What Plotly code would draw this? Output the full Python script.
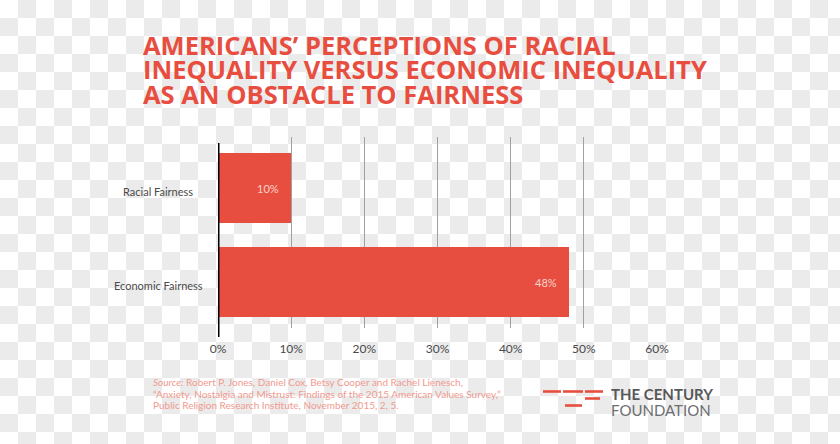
import plotly.graph_objects as go
import urllib.parse

categories = ["Economic Fairness", "Racial Fairness"]
values = [48, 10]
value_labels = ["48%", "10%"]
tick_values = [0, 10, 20, 30, 40, 50, 60]
tick_labels = ["0%", "10%", "20%", "30%", "40%", "50%", "60%"]

title_lines = [
    "AMERICANS\u2019 PERCEPTIONS OF RACIAL",
    "INEQUALITY VERSUS ECONOMIC INEQUALITY",
    "AS AN OBSTACLE TO FAIRNESS",
]
source_lines = [
    "<i>Source:</i> Robert P. Jones, Daniel Cox, Betsy Cooper and Rachel Lienesch,",
    "\u201cAnxiety, Nostalgia and Mistrust: Findings of the 2015 American Values Survey,\u201d",
    "Public Religion Research Institute, November 2015, 2, 5.",
]

W, H = 840, 444
ML, MR, MT, MB = 218, 183, 137, 116
PW, PH = W - ML - MR, H - MT - MB

RED = "#e84e3f"

def px_x(p):
    return (p - ML) / PW

def px_y(p):
    return (H - MB - p) / PH

# checkerboard background
svg = (
    "<svg xmlns='http://www.w3.org/2000/svg' width='840' height='444'>"
    "<defs><pattern id='p' width='36' height='36' patternUnits='userSpaceOnUse'>"
    "<rect width='36' height='36' fill='#ffffff'/>"
    "<rect x='18' y='0' width='18' height='18' fill='#ebebeb'/>"
    "<rect x='0' y='18' width='18' height='18' fill='#ebebeb'/>"
    "</pattern></defs><rect width='840' height='444' fill='url(#p)'/></svg>"
)
bg_src = "data:image/svg+xml;charset=utf-8," + urllib.parse.quote(svg)

fig = go.Figure()
fig.add_trace(go.Bar(
    y=categories, x=values, orientation="h",
    marker=dict(color=RED, line=dict(width=0)),
    width=0.745, hoverinfo="skip",
))

annotations = []
for i, line in enumerate(title_lines):
    annotations.append(dict(
        text=line, xref="paper", yref="paper", x=px_x(141), y=px_y(44.5 + i * 24.5),
        xanchor="left", yanchor="middle", showarrow=False,
        font=dict(family="Open Sans", size=25.5, color=RED, weight="bold"),
    ))
for cat in categories:
    annotations.append(dict(
        text=cat, xref="paper", yref="y", x=px_x(158), y=cat, yshift=-3,
        xanchor="center", yanchor="middle", showarrow=False,
        font=dict(family="Lato", size=11, color="#4a4a4a"),
    ))
for cat, v, lab in zip(categories, values, value_labels):
    annotations.append(dict(
        text=lab, xref="x", yref="y", x=v, y=cat, xshift=-10,
        xanchor="right", yanchor="middle", showarrow=False,
        font=dict(family="Lato", size=11, color="#fbd3ce"),
    ))
for i, line in enumerate(source_lines):
    annotations.append(dict(
        text=line, xref="paper", yref="paper", x=px_x(151), y=px_y(382 + i * 11.7),
        xanchor="left", yanchor="middle", showarrow=False,
        font=dict(family="Lato", size=10, color="#f19a8f"),
    ))
annotations.append(dict(
    text="<b>THE CENTURY</b>", xref="paper", yref="paper", x=px_x(609), y=px_y(393.5),
    xanchor="left", yanchor="middle", showarrow=False,
    font=dict(family="Lato", size=15, color="#58595b"),
))
annotations.append(dict(
    text="FOUNDATION", xref="paper", yref="paper", x=px_x(609), y=px_y(409.5),
    xanchor="left", yanchor="middle", showarrow=False,
    font=dict(family="Lato", size=15, color="#6d6e71"),
))

shapes = [
    dict(type="line", xref="x", yref="paper", x0=0, x1=0, y0=px_y(337), y1=px_y(143),
         line=dict(color="#000000", width=3)),
]
# logo dashes
for (x0, x1, y) in [(543, 561, 391.5), (563, 583, 391.5), (585, 603, 391.5),
                    (585, 600, 398.5), (565, 582, 405.5)]:
    shapes.append(dict(type="rect", xref="paper", yref="paper",
                       x0=px_x(x0), x1=px_x(x1), y0=px_y(y + 1.3), y1=px_y(y - 1.3),
                       fillcolor=RED, line=dict(width=0)))

fig.update_layout(
    width=W, height=H, margin=dict(l=ML, r=MR, t=MT, b=MB),
    paper_bgcolor="#ffffff", plot_bgcolor="rgba(0,0,0,0)",
    showlegend=False, bargap=0,
    annotations=annotations, shapes=shapes,
    images=[dict(source=bg_src, xref="paper", yref="paper",
                 x=-ML / PW, y=1 + MT / PH, sizex=W / PW, sizey=H / PH,
                 xanchor="left", yanchor="top", sizing="stretch", layer="below")],
    xaxis=dict(range=[0, 60], tickmode="array", tickvals=tick_values, ticktext=tick_labels,
               showgrid=True, gridcolor="#a0a0a0", gridwidth=1, zeroline=False,
               showline=False, ticks="outside", ticklen=10, tickcolor="rgba(0,0,0,0)",
               tickfont=dict(family="Lato", size=12, color="#4a4a4a"), fixedrange=True),
    yaxis=dict(range=[-0.489, 1.543], showticklabels=False, showgrid=False,
               zeroline=False, showline=False, fixedrange=True),
)

fig.write_html("out.html")
